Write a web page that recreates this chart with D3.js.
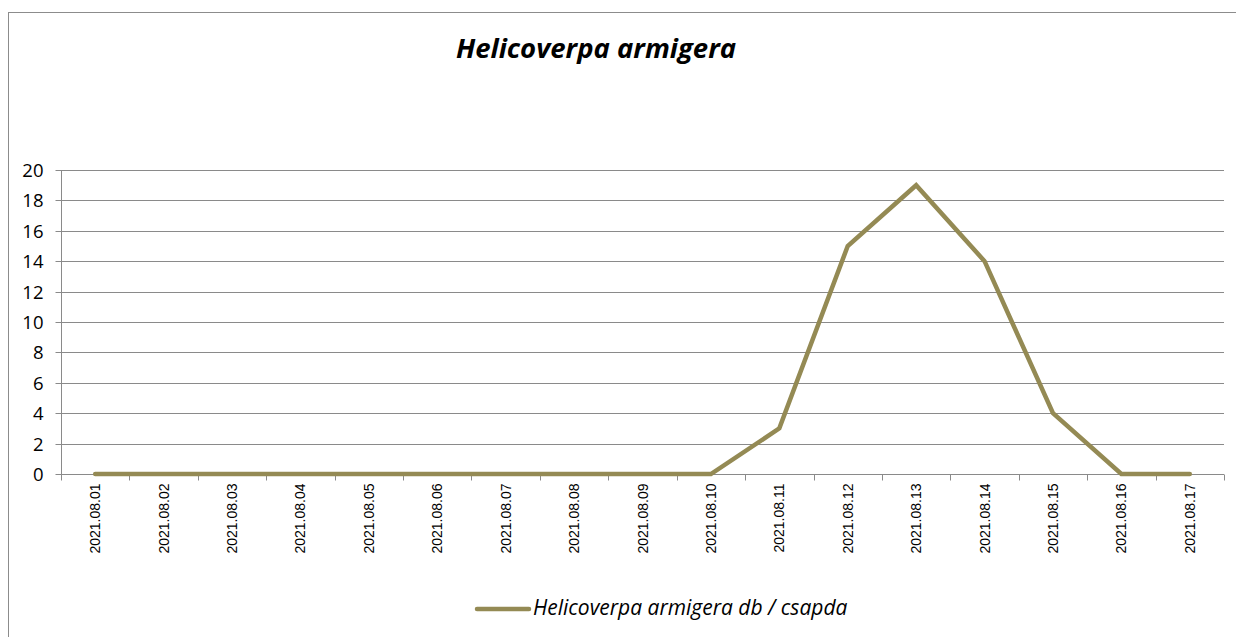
<!DOCTYPE html>
<html><head><meta charset="utf-8">
<script src="https://cdn.jsdelivr.net/npm/d3@7"></script>
<style>body{margin:0;background:#fff}svg{display:block}</style>
</head><body>
<svg id="c" width="1236" height="637"></svg>
<script>
const categories = ["2021.08.01","2021.08.02","2021.08.03","2021.08.04","2021.08.05","2021.08.06","2021.08.07","2021.08.08","2021.08.09","2021.08.10","2021.08.11","2021.08.12","2021.08.13","2021.08.14","2021.08.15","2021.08.16","2021.08.17"];
const values = [0,0,0,0,0,0,0,0,0,0,3,15,19,14,4,0,0];
const yTicks = [0,2,4,6,8,10,12,14,16,18,20];
const title = "Helicoverpa armigera";
const seriesName = "Helicoverpa armigera db / csapda";

const svg = d3.select("#c");
const L = 61, R = 1224, T = 170, B = 474;
const color = "#948A54";

// outer border
svg.append("rect").attr("x",8.5).attr("y",12.5).attr("width",1240).attr("height",640)
  .attr("fill","none").attr("stroke","#8c8c8c").attr("stroke-width",1);

const x = d3.scaleBand().domain(categories).range([L,R]).paddingInner(0).paddingOuter(0);
const y = d3.scaleLinear().domain([0,20]).range([B,T]);

// gridlines
svg.append("g").selectAll("line").data(yTicks.filter(d=>d>0)).join("line")
  .attr("x1",L).attr("x2",R).attr("y1",d=>Math.round(y(d))+0.5).attr("y2",d=>Math.round(y(d))+0.5)
  .attr("stroke","#8a8a8a").attr("stroke-width",1);

// y axis
const yAxis = svg.append("g").attr("transform",`translate(${L+0.5},0)`)
  .call(d3.axisLeft(y).tickValues(yTicks).tickSize(6).tickPadding(12).tickFormat(d3.format("d")));
yAxis.select(".domain").attr("stroke","#8a8a8a").attr("d",`M0,${T}V${B}`);
yAxis.selectAll(".tick line").attr("stroke","#8a8a8a");
yAxis.selectAll(".tick").attr("transform",d=>`translate(0,${Math.round(y(d))+0.5})`);
yAxis.selectAll("text").attr("font-family","'Open Sans', 'Noto Sans', sans-serif").attr("font-size",18.5).attr("fill","#000").attr("dy","0.35em");

// x axis
const xg = svg.append("g").attr("transform",`translate(0,${B+0.5})`);
xg.append("line").attr("x1",L).attr("x2",R).attr("y1",0).attr("y2",0).attr("stroke","#8a8a8a");
const bounds = categories.map(c=>x(c)).concat([R]);
xg.selectAll("line.t").data(bounds).join("line").attr("class","t")
  .attr("x1",d=>Math.round(d)+0.5).attr("x2",d=>Math.round(d)+0.5).attr("y1",0).attr("y2",6)
  .attr("stroke","#8a8a8a");
xg.selectAll("text").data(categories).join("text")
  .attr("transform",d=>`translate(${x(d)+x.bandwidth()/2+5},${9}) rotate(-90)`)
  .attr("text-anchor","end").attr("font-family","'Liberation Sans', Arial, sans-serif")
  .attr("font-size",14).attr("fill","#000").text(d=>d);

// line
const line = d3.line().x((d,i)=>x(categories[i])+x.bandwidth()/2).y(d=>y(d));
svg.append("path").datum(values).attr("d",line).attr("fill","none")
  .attr("stroke",color).attr("stroke-width",4.5).attr("stroke-linejoin","miter").attr("stroke-linecap","round");

// title
svg.append("text").attr("x",596).attr("y",58).attr("text-anchor","middle")
  .attr("font-family","'Open Sans', 'Noto Sans', sans-serif").attr("font-weight","bold").attr("font-style","italic")
  .attr("font-size",27.5).attr("fill","#000").text(title);

// legend
svg.append("line").attr("x1",477).attr("x2",529).attr("y1",609).attr("y2",609)
  .attr("stroke",color).attr("stroke-width",4.5).attr("stroke-linecap","round");
svg.append("text").attr("x",533).attr("y",615).attr("font-family","'Open Sans', 'Noto Sans', sans-serif")
  .attr("font-style","italic").attr("font-size",21).attr("fill","#000").text(seriesName);
</script>
</body></html>
